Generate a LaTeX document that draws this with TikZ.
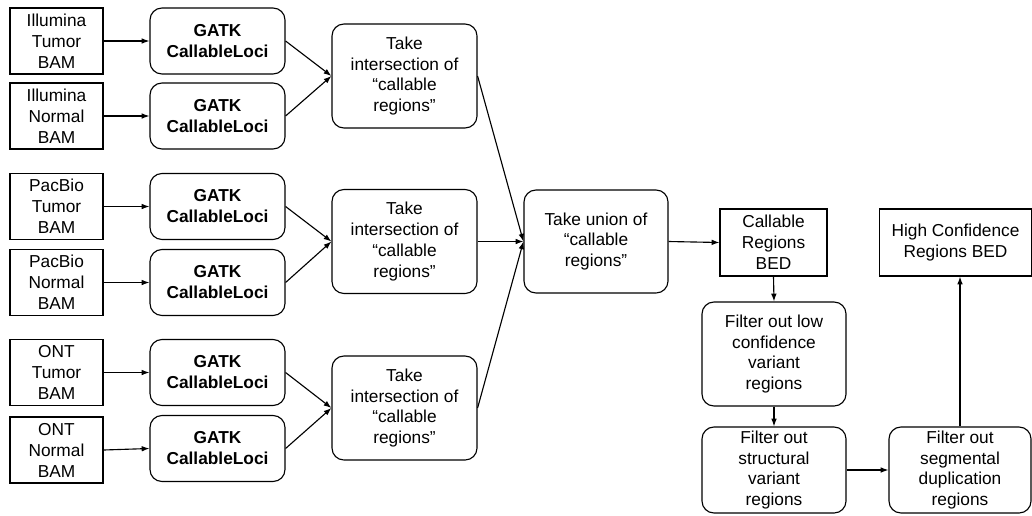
\documentclass[tikz,border=0pt]{standalone}
\usepackage{fontspec}
\setmainfont{Liberation Sans}
\usetikzlibrary{arrows.meta}

\begin{document}
\begin{tikzpicture}[x=0.025cm, y=-0.025cm, line width=0.8pt,
  >={Latex[length=5.5pt,width=4pt]},
  every node/.style={align=center, inner sep=0pt, font=\fontsize{12.3}{14.9}\selectfont},
  bamfile/.style={draw, rectangle, minimum width=2.325cm, minimum height=1.65cm},
  callloci/.style={draw, rounded corners=0.3cm, minimum width=3.375cm, minimum height=1.65cm,
    font=\fontsize{12.3}{14.9}\selectfont\bfseries},
  process/.style={draw, rounded corners=0.3cm},
  bedfile/.style={draw, rectangle, minimum height=1.675cm}]

\useasboundingbox (0,0) rectangle (1032,515);

% Input BAM files
\node[bamfile] (illT) at (56.5,41)    {Illumina\\Tumor\\BAM};
\node[bamfile] (illN) at (56.5,116)   {Illumina\\Normal\\BAM};
\node[bamfile] (pbT)  at (56.5,206.5) {PacBio\\Tumor\\BAM};
\node[bamfile] (pbN)  at (56.5,282.5) {PacBio\\Normal\\BAM};
\node[bamfile] (ontT) at (56.5,372.5) {ONT\\Tumor\\BAM};
\node[bamfile] (ontN) at (56.5,450)   {ONT\\Normal\\BAM};

% CallableLoci per BAM
\node[callloci] (gatkIllT) at (217.5,41)    {GATK\\CallableLoci};
\node[callloci] (gatkIllN) at (217.5,116)   {GATK\\CallableLoci};
\node[callloci] (gatkPbT)  at (217.5,206.5) {GATK\\CallableLoci};
\node[callloci] (gatkPbN)  at (217.5,282.5) {GATK\\CallableLoci};
\node[callloci] (gatkOntT) at (217.5,372.5) {GATK\\CallableLoci};
\node[callloci] (gatkOntN) at (217.5,448.5) {GATK\\CallableLoci};

% Intersections and union
\node[process, minimum width=3.625cm, minimum height=2.6cm] (interIll) at (404.5,76)    {Take\\intersection of\\“callable\\regions”};
\node[process, minimum width=3.625cm, minimum height=2.6cm] (interPb)  at (404.5,241.5) {Take\\intersection of\\“callable\\regions”};
\node[process, minimum width=3.625cm, minimum height=2.6cm] (interOnt) at (404.5,408)   {Take\\intersection of\\“callable\\regions”};
\node[process, minimum width=3.6cm, minimum height=2.575cm] (union) at (596,241.5) {Take union of\\“callable\\regions”};

% Filtering steps
\node[bedfile, minimum width=2.675cm] (callBed) at (773.5,242.5) {Callable\\Regions\\BED};
\node[process, minimum width=3.6cm, minimum height=2.6cm] (lowConf) at (774,354) {Filter out low\\confidence\\variant\\regions};
\node[process, minimum width=3.6cm, minimum height=2.15cm] (svFilt) at (774,470) {Filter out\\structural\\variant\\regions};
\node[process, minimum width=3.55cm, minimum height=2.15cm] (segDup) at (960,470) {Filter out\\segmental\\duplication\\regions};
\node[bedfile, minimum width=3.8cm] (highBed) at (955.5,242.5) {High Confidence\\Regions BED};

% Connectors
\foreach \src/\dst in {illT/gatkIllT, illN/gatkIllN, pbT/gatkPbT, pbN/gatkPbN, ontT/gatkOntT, ontN/gatkOntN}
  \draw[->] (\src.east) -- (\dst.west);

\foreach \src/\dst in {gatkIllT/interIll, gatkIllN/interIll, gatkPbT/interPb, gatkPbN/interPb, gatkOntT/interOnt, gatkOntN/interOnt}
  \draw[->] (\src.east) -- (\dst.west);

\foreach \src in {interIll, interPb, interOnt}
  \draw[->] (\src.east) -- (union.west);

\draw[->] (union.east) -- (callBed.west);
\draw[->] (callBed.south) -- (lowConf.north);
\draw[->] (lowConf.south) -- (svFilt.north);
\draw[->] (svFilt.east) -- (segDup.west);
\draw[->] (segDup.north) -- (segDup.north |- highBed.south);

\end{tikzpicture}
\end{document}
